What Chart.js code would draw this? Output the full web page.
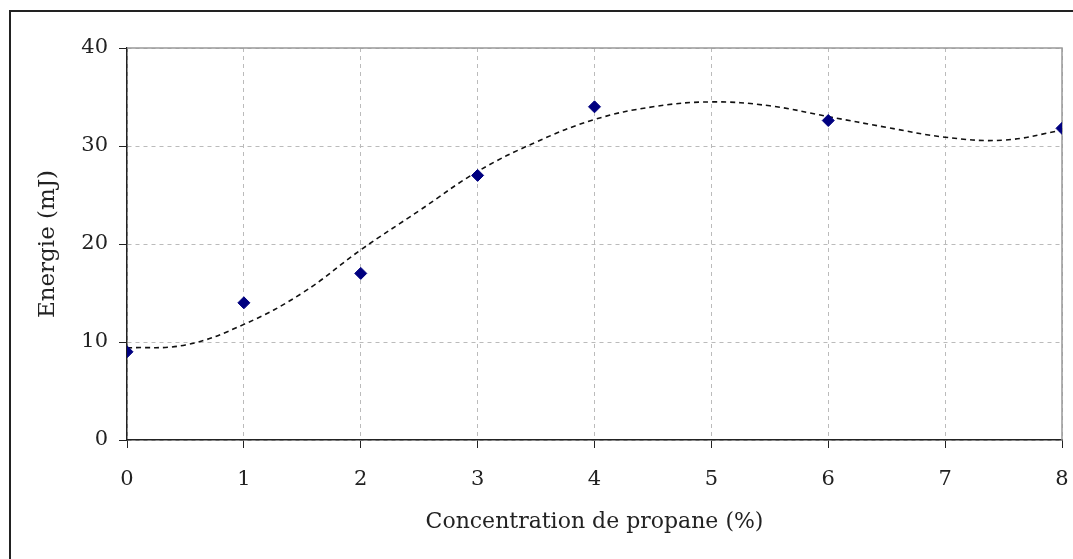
<!DOCTYPE html>
<html>
<head>
<meta charset="utf-8">
<script src="https://cdn.jsdelivr.net/npm/chart.js@4"></script>
<style>
  html, body { margin: 0; background: #fff; overflow: hidden; width: 1073px; height: 559px; }
  #frame { position: absolute; left: 9px; top: 10px; width: 1100px; height: 600px; border: 2px solid #222; }
  #box { position: absolute; left: 0; top: 0; width: 1073px; height: 559px; }
</style>
</head>
<body>
<div id="frame"></div>
<div id="box"><canvas id="energyChart" width="1073" height="559"></canvas></div>
<script>
// donnees mesurees
const concentrations = [0, 1, 2, 3, 4, 6, 8];
const energies = [9, 14, 17, 27, 34, 32.6, 31.8];

// courbe de tendance
const trendX = [0, 0.5, 1, 1.5, 2, 2.5, 3, 3.5, 4, 4.5, 5, 5.5, 6, 6.5, 7, 7.5, 8];
const trendY = [9.4, 9.7, 11.8, 15.0, 19.4, 23.4, 27.4, 30.4, 32.7, 34.0, 34.5, 34.1, 33.0, 31.9, 30.9, 30.6, 31.6];

const xTicks = [0, 1, 2, 3, 4, 5, 6, 7, 8];
const yTicks = [0, 10, 20, 30, 40];

const serif = "'DejaVu Serif', serif";

// cadre gris autour de la zone de trace
const plotBorder = {
  id: "plotBorder",
  beforeDatasetsDraw(chart) {
    const { ctx, chartArea } = chart;
    ctx.save();
    ctx.strokeStyle = "#999";
    ctx.lineWidth = 1.5;
    ctx.beginPath();
    ctx.moveTo(chartArea.left, chartArea.top);
    ctx.lineTo(chartArea.right, chartArea.top);
    ctx.lineTo(chartArea.right, chartArea.bottom);
    ctx.stroke();
    ctx.restore();
  }
};

document.addEventListener("DOMContentLoaded", function () {
  const ctx = document.getElementById("energyChart").getContext("2d");
  new Chart(ctx, {
    type: "scatter",
    data: {
      datasets: [{
        label: "Energie",
        data: concentrations.map((x, i) => ({ x: x, y: energies[i] })),
        pointStyle: "rectRot",
        pointRadius: 6,
        backgroundColor: "#000080",
        borderColor: "#000080",
        order: 0,
      }, {
        label: "Tendance",
        type: "line",
        data: trendX.map((x, i) => ({ x: x, y: trendY[i] })),
        borderColor: "#111",
        borderWidth: 1.6,
        borderDash: [5, 4],
        pointRadius: 0,
        tension: 0.4,
        fill: false,
        order: 1,
      }]
    },
    options: {
      responsive: false,
      animation: false,
      layout: { padding: { top: 48, right: 11, left: 0, bottom: 0 } },
      plugins: {
        legend: { display: false },
        tooltip: { enabled: false },
      },
      scales: {
        x: {
          type: "linear",
          min: 0,
          max: 8,
          afterBuildTicks: (axis) => { axis.ticks = xTicks.map(v => ({ value: v })); },
          afterFit: (axis) => {
            axis.height = 119;
            axis.paddingLeft = 0;
            axis.paddingRight = 0;
          },
          grid: { color: "#bbb", tickColor: "#222", tickLength: 8 },
          border: { color: "#222", width: 1.5, dash: [4, 4] },
          ticks: { color: "#222", padding: 19, font: { family: serif, size: 21 } },
          title: {
            display: true,
            text: "Concentration de propane (%)",
            color: "#222",
            font: { family: serif, size: 22 },
            padding: { top: 0, bottom: 24 },
          },
        },
        y: {
          min: 0,
          max: 40,
          afterBuildTicks: (axis) => { axis.ticks = yTicks.map(v => ({ value: v })); },
          afterFit: (axis) => {
            axis.width = 127;
            axis.paddingTop = 0;
            axis.paddingBottom = 0;
          },
          grid: { color: "#bbb", tickColor: "#222", tickLength: 8 },
          border: { color: "#222", width: 1.5, dash: [4, 4] },
          ticks: { color: "#222", padding: 11, font: { family: serif, size: 21 } },
          title: {
            display: true,
            text: "Energie (mJ)",
            color: "#222",
            font: { family: serif, size: 23 },
            padding: { top: 34, bottom: 0 },
          },
        },
      },
    },
    plugins: [plotBorder],
  });
});
</script>
</body>
</html>
